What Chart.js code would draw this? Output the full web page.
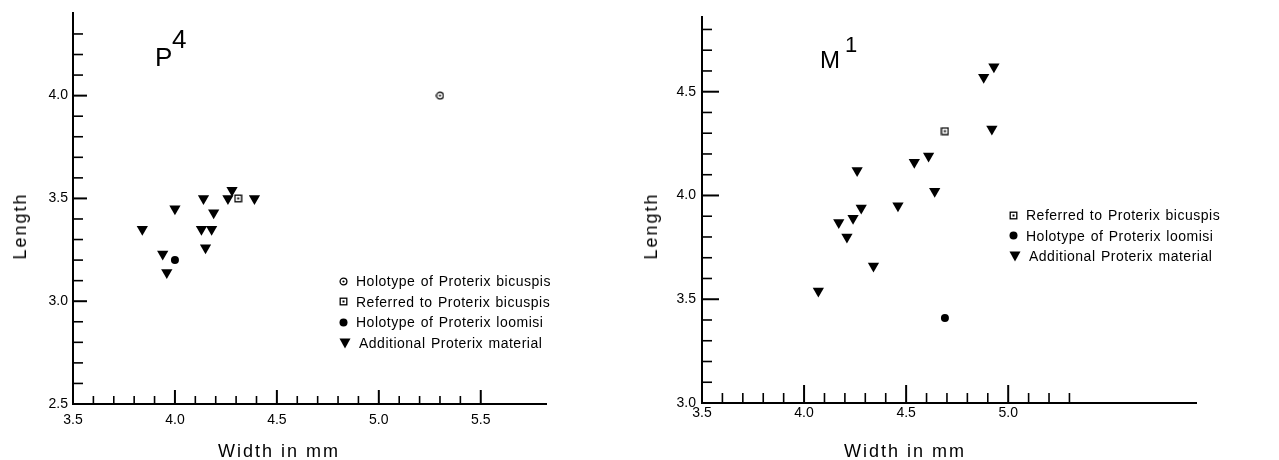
<!DOCTYPE html>
<html lang="en">
<head>
  <meta charset="UTF-8" />
  <title>Proterix P4 and M1 dimensions</title>
  <script src="https://cdn.jsdelivr.net/npm/chart.js@4.4.8/dist/chart.umd.min.js"></script>
  <style>
    html, body { margin: 0; padding: 0; background: #fff; }
    body {
      width: 1279px; height: 460px; position: relative; overflow: hidden;
      font-family: 'Liberation Sans', Arial, sans-serif; color: #000;
    }
    .panel { position: absolute; top: 0; height: 460px; }
    .txt { position: absolute; white-space: nowrap; line-height: 1; }
    .axis-title { font-size: 18px; letter-spacing: 2px; }
    .vt { transform: translate(-50%, -50%) rotate(-90deg); }
    .ht { transform: translateX(-50%); }
    .legend-row {
      position: absolute; height: 20px; display: flex; align-items: center;
      font-size: 14px; letter-spacing: 0.5px; word-spacing: 1px; white-space: nowrap; line-height: 20px;
    }
    .legend-row canvas { margin-right: 8px; }
  </style>
</head>
<body>

  <div class="panel" style="left:0;width:620px">
    <canvas id="p4Chart" width="620" height="460"></canvas>
  </div>
  <div class="panel" style="left:620px;width:659px">
    <canvas id="m1Chart" width="659" height="460"></canvas>
  </div>

  <!-- titles -->
  <span class="txt" style="left:155px;top:44px;font-size:26px">P</span>
  <span class="txt" style="left:172px;top:26px;font-size:26px">4</span>
  <span class="txt" style="left:820px;top:48px;font-size:24px">M</span>
  <span class="txt" style="left:845px;top:34px;font-size:22px">1</span>

  <!-- axis titles -->
  <span class="txt axis-title vt" style="left:20px;top:226px">Length</span>
  <span class="txt axis-title ht" style="left:279px;top:442px">Width in mm</span>
  <span class="txt axis-title vt" style="left:651px;top:226px">Length</span>
  <span class="txt axis-title ht" style="left:905px;top:442px">Width in mm</span>

  <div id="p4Legend"></div>
  <div id="m1Legend"></div>

  <script>
    // P4 measurements (width, length in mm)
    const p4HoloBicuspisX = [5.3];
    const p4HoloBicuspisY = [4.0];
    const p4RefBicuspisX = [4.31];
    const p4RefBicuspisY = [3.5];
    const p4HoloLoomisiX = [4.0];
    const p4HoloLoomisiY = [3.2];
    const p4AdditionalX = [3.84, 3.94, 3.96, 4.0, 4.14, 4.13, 4.18, 4.15, 4.19, 4.26, 4.28, 4.39];
    const p4AdditionalY = [3.35, 3.23, 3.14, 3.45, 3.5, 3.35, 3.35, 3.26, 3.43, 3.5, 3.54, 3.5];

    // M1 measurements
    const m1RefBicuspisX = [4.69];
    const m1RefBicuspisY = [4.31];
    const m1HoloLoomisiX = [4.69];
    const m1HoloLoomisiY = [3.41];
    const m1AdditionalX = [4.07, 4.17, 4.21, 4.24, 4.28, 4.26, 4.34, 4.46, 4.54, 4.61, 4.64, 4.88, 4.93, 4.92];
    const m1AdditionalY = [3.54, 3.87, 3.80, 3.89, 3.94, 4.12, 3.66, 3.95, 4.16, 4.19, 4.02, 4.57, 4.62, 4.32];

    // ticks
    const p4XTicks = [3.5, 3.6, 3.7, 3.8, 3.9, 4.0, 4.1, 4.2, 4.3, 4.4, 4.5, 4.6, 4.7, 4.8, 4.9, 5.0, 5.1, 5.2, 5.3, 5.4, 5.5];
    const p4XLabels = ['3.5', '4.0', '4.5', '5.0', '5.5'];
    const p4YTicks = [2.5, 2.6, 2.7, 2.8, 2.9, 3.0, 3.1, 3.2, 3.3, 3.4, 3.5, 3.6, 3.7, 3.8, 3.9, 4.0, 4.1, 4.2, 4.3];
    const p4YLabels = ['2.5', '3.0', '3.5', '4.0'];
    const m1XTicks = [3.5, 3.6, 3.7, 3.8, 3.9, 4.0, 4.1, 4.2, 4.3, 4.4, 4.5, 4.6, 4.7, 4.8, 4.9, 5.0, 5.1, 5.2, 5.3];
    const m1XLabels = ['3.5', '4.0', '4.5', '5.0'];
    const m1YTicks = [3.0, 3.1, 3.2, 3.3, 3.4, 3.5, 3.6, 3.7, 3.8, 3.9, 4.0, 4.1, 4.2, 4.3, 4.4, 4.5, 4.6, 4.7, 4.8];
    const m1YLabels = ['3.0', '3.5', '4.0', '4.5'];

    const legendHoloBicuspis = 'Holotype of Proterix bicuspis';
    const legendRefBicuspis = 'Referred to Proterix bicuspis';
    const legendHoloLoomisi = 'Holotype of Proterix loomisi';
    const legendAdditional = 'Additional Proterix material';

    const pts = (xs, ys) => xs.map((x, i) => ({ x: x, y: ys[i] }));

    // small marker images
    function marker(kind) {
      const c = document.createElement('canvas');
      const s = kind === 'tri' ? 12 : 9;
      c.width = c.height = s;
      const g = c.getContext('2d');
      const m = s / 2;
      g.strokeStyle = g.fillStyle = '#000';
      g.lineWidth = 1.3;
      if (kind === 'circleDot') {
        g.beginPath(); g.arc(m, m, 3.4, 0, Math.PI * 2); g.stroke();
        g.beginPath(); g.arc(m, m, 1.1, 0, Math.PI * 2); g.fill();
      } else if (kind === 'squareDot') {
        g.strokeRect(1.2, 1.2, s - 2.4, s - 2.4);
        g.fillRect(m - 1, m - 1, 2, 2);
      } else if (kind === 'disc') {
        g.beginPath(); g.arc(m, m, 4, 0, Math.PI * 2); g.fill();
      } else {
        g.beginPath(); g.moveTo(0.5, 1.5); g.lineTo(s - 0.5, 1.5); g.lineTo(m, s - 0.5); g.closePath(); g.fill();
      }
      return c;
    }
    const circleDot = marker('circleDot');
    const squareDot = marker('squareDot');

    // ticks pointing into the plot, long at labelled values
    const innerTicks = {
      id: 'innerTicks',
      afterDraw(chart, args, o) {
        const { ctx, chartArea: a } = chart;
        const xs = chart.scales.x, ys = chart.scales.y;
        ctx.save();
        ctx.strokeStyle = '#000';
        xs.ticks.forEach(t => {
          if (t.value <= xs.min) return;
          const px = xs.getPixelForValue(t.value);
          const major = t.label !== '';
          ctx.lineWidth = major ? 2 : 1.6;
          ctx.beginPath();
          ctx.moveTo(px, a.bottom);
          ctx.lineTo(px, a.bottom - (major ? o.xMajor : o.xMinor));
          ctx.stroke();
        });
        ys.ticks.forEach(t => {
          if (t.value <= ys.min) return;
          const py = ys.getPixelForValue(t.value);
          const major = t.label !== '';
          ctx.lineWidth = major ? 2 : 1.6;
          ctx.beginPath();
          ctx.moveTo(a.left, py);
          ctx.lineTo(a.left + (major ? o.yMajor : o.yMinor), py);
          ctx.stroke();
        });
        ctx.restore();
      }
    };

    function axis(min, max, tickList, labels, pad, size) {
      return {
        type: 'linear',
        min: min,
        max: max,
        grid: { display: false, drawTicks: false },
        border: { display: true, color: '#000', width: 2 },
        afterBuildTicks: s => { s.ticks = tickList.map(v => ({ value: v })); },
        afterFit: s => { if (s.isHorizontal()) s.height = size; else s.width = size; },
        ticks: {
          color: '#000',
          padding: pad,
          autoSkip: false,
          maxRotation: 0,
          font: { family: "'Liberation Sans', Arial, sans-serif", size: 14 },
          callback: v => labels.includes(v.toFixed(1)) ? v.toFixed(1) : ''
        }
      };
    }

    function makeChart(id, datasets, scales, padding, tickLen) {
      return new Chart(document.getElementById(id), {
        type: 'scatter',
        data: { datasets: datasets },
        options: {
          responsive: false,
          animation: false,
          events: [],
          layout: { padding: padding },
          plugins: { legend: { display: false }, tooltip: { enabled: false }, innerTicks: tickLen },
          scales: scales
        },
        plugins: [innerTicks]
      });
    }

    const triStyle = { pointStyle: 'triangle', rotation: 180, pointRadius: 6.5, backgroundColor: '#000', borderColor: '#000', borderWidth: 0 };
    const discStyle = { pointStyle: 'circle', pointRadius: 4, backgroundColor: '#000', borderColor: '#000', borderWidth: 0 };

    makeChart('p4Chart', [
      { label: legendHoloBicuspis, data: pts(p4HoloBicuspisX, p4HoloBicuspisY), pointStyle: circleDot, pointRadius: 4 },
      { label: legendRefBicuspis, data: pts(p4RefBicuspisX, p4RefBicuspisY), pointStyle: squareDot, pointRadius: 4 },
      Object.assign({ label: legendHoloLoomisi, data: pts(p4HoloLoomisiX, p4HoloLoomisiY) }, discStyle),
      Object.assign({ label: legendAdditional, data: pts(p4AdditionalX, p4AdditionalY) }, triStyle)
    ], {
      x: axis(3.5, 5.82, p4XTicks, p4XLabels, 8, 56),
      y: axis(2.5, 4.40, p4YTicks, p4YLabels, 5, 73)
    }, { top: 13, right: 74, left: 0, bottom: 0 }, { xMajor: 14, xMinor: 8, yMajor: 14, yMinor: 10 });

    makeChart('m1Chart', [
      { label: legendRefBicuspis, data: pts(m1RefBicuspisX, m1RefBicuspisY), pointStyle: squareDot, pointRadius: 4 },
      Object.assign({ label: legendHoloLoomisi, data: pts(m1HoloLoomisiX, m1HoloLoomisiY) }, discStyle),
      Object.assign({ label: legendAdditional, data: pts(m1AdditionalX, m1AdditionalY) }, triStyle)
    ], {
      x: axis(3.5, 5.92, m1XTicks, m1XLabels, 2, 57),
      y: axis(3.0, 4.86, m1YTicks, m1YLabels, 6, 82)
    }, { top: 17, right: 83, left: 0, bottom: 0 }, { xMajor: 18, xMinor: 10, yMajor: 17, yMinor: 10 });

    // legends
    function legend(holder, left, top, rows) {
      const el = document.getElementById(holder);
      rows.forEach((r, i) => {
        const row = document.createElement('div');
        row.className = 'legend-row';
        row.style.left = left + 'px';
        row.style.top = (top + i * 20.6) + 'px';
        const mk = marker(r[0]);
        row.appendChild(mk);
        row.appendChild(document.createTextNode(r[1]));
        el.appendChild(row);
      });
    }
    legend('p4Legend', 339, 271, [
      ['circleDot', legendHoloBicuspis],
      ['squareDot', legendRefBicuspis],
      ['disc', legendHoloLoomisi],
      ['tri', legendAdditional]
    ]);
    legend('m1Legend', 1009, 205, [
      ['squareDot', legendRefBicuspis],
      ['disc', legendHoloLoomisi],
      ['tri', legendAdditional]
    ]);
  </script>
</body>
</html>
